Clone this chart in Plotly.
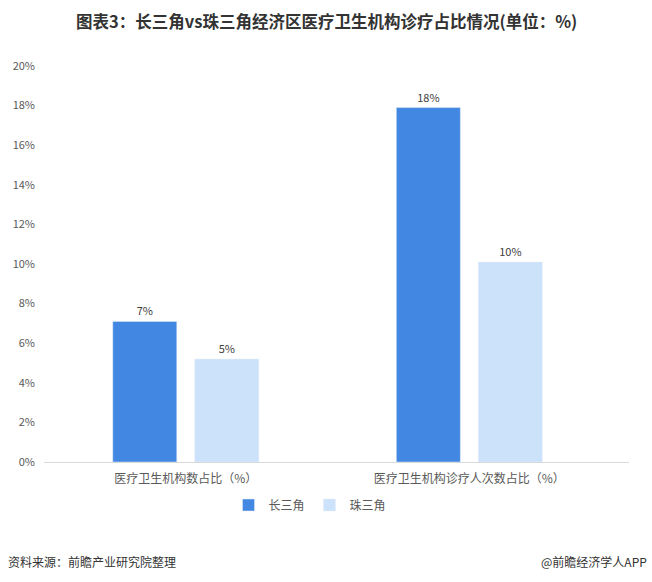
import plotly.graph_objects as go

categories = ["医疗卫生机构数占比（%）", "医疗卫生机构诊疗人次数占比（%）"]
yrd_values = [7.1, 17.9]
prd_values = [5.2, 10.1]
series_names = ["长三角", "珠三角"]
y_ticks = [0, 2, 4, 6, 8, 10, 12, 14, 16, 18, 20]
y_tick_labels = [f"{v}%" for v in y_ticks]

FONT = "Noto Sans CJK SC"
W, H = 652, 582
PLOT_LEFT, PLOT_RIGHT = 44, 629
PLOT_TOP, PLOT_BOTTOM = 66, 462
PW = PLOT_RIGHT - PLOT_LEFT
PH = PLOT_BOTTOM - PLOT_TOP

fig = go.Figure()
for name, vals, color in [(series_names[0], yrd_values, "#4287E1"),
                          (series_names[1], prd_values, "#CCE1FA")]:
    fig.add_trace(go.Bar(
        x=categories, y=vals, name=name, marker_color=color,
        texttemplate="%{y:.0f}%", textposition="outside",
        textfont=dict(size=11, color="#404040", family=FONT),
        cliponaxis=False,
    ))

fig.update_layout(
    width=W, height=H,
    margin=dict(l=PLOT_LEFT, r=W - PLOT_RIGHT, t=PLOT_TOP, b=H - PLOT_BOTTOM),
    paper_bgcolor="white", plot_bgcolor="white",
    barmode="group", bargap=0.4215, bargroupgap=0.2195,
    font=dict(family=FONT, color="#595959"),
    showlegend=True,
    legend=dict(orientation="h", xref="container", yref="container",
                x=310 / W, xanchor="center", y=1 - 505 / H, yanchor="middle",
                font=dict(size=12, color="#595959", family=FONT),
                itemwidth=30, traceorder="normal"),
    xaxis=dict(range=[-0.5, 1.563], showline=True, linecolor="#D9D9D9", linewidth=1,
               ticks="", showgrid=False, automargin=False, ticklabelstandoff=6,
               tickfont=dict(size=12, color="#595959")),
    yaxis=dict(range=[0, 20], tickvals=y_ticks, ticktext=y_tick_labels, showgrid=False,
               zeroline=False, showline=False, ticks="", automargin=False,
               ticklabelstandoff=8,
               tickfont=dict(size=11, color="#595959")),
    annotations=[
        dict(text="<b>图表3：长三角vs珠三角经济区医疗卫生机构诊疗占比情况(单位：%)</b>",
             xref="paper", yref="paper", x=(326 - PLOT_LEFT) / PW,
             y=(PLOT_BOTTOM - 21) / PH, xanchor="center",
             yanchor="middle", showarrow=False, font=dict(size=16.5, color="#333333", family=FONT)),
        dict(text="资料来源：前瞻产业研究院整理", xref="paper", yref="paper",
             x=(6 - PLOT_LEFT) / PW, y=(PLOT_BOTTOM - 561) / PH,
             xanchor="left", yanchor="middle", showarrow=False,
             font=dict(size=12, color="#333333", family=FONT)),
        dict(text="@前瞻经济学人APP", xref="paper", yref="paper",
             x=(649 - PLOT_LEFT) / PW, y=(PLOT_BOTTOM - 561) / PH,
             xanchor="right", yanchor="middle", showarrow=False,
             font=dict(size=12, color="#333333", family=FONT)),
    ],
)

fig.write_html("out.html", config={"displayModeBar": False},
               post_script="document.body.style.margin='0px';")
